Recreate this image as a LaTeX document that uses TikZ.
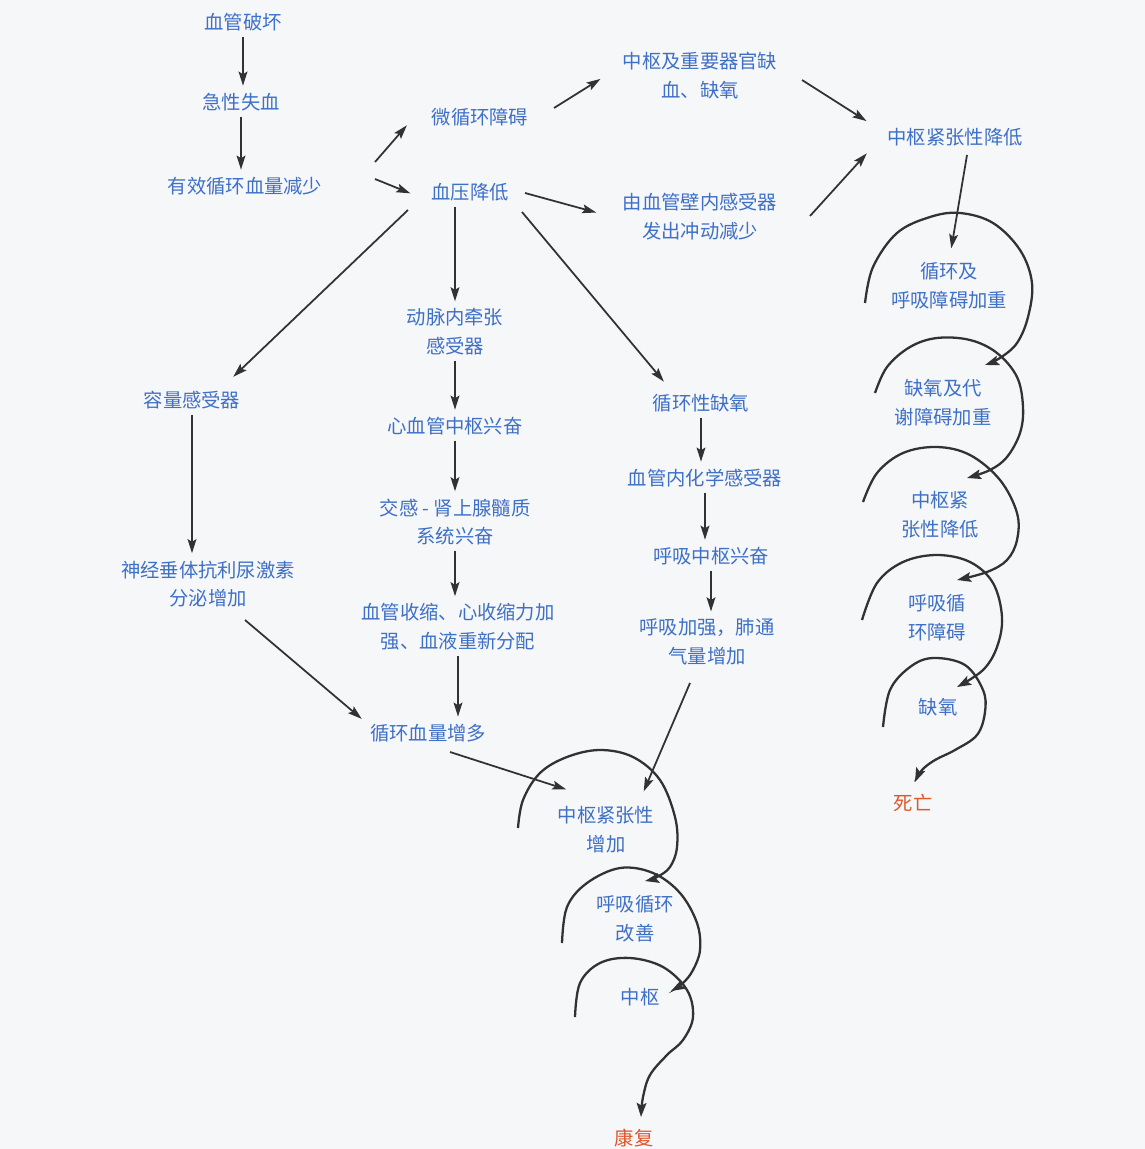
\documentclass[tikz,border=0pt]{standalone}
\usepackage{fontspec}
\setmainfont{Noto Sans CJK SC}
\usepackage{tikz}
\usetikzlibrary{arrows.meta}

\definecolor{tblue}{RGB}{62,112,200}
\definecolor{tred}{RGB}{222,86,44}
\definecolor{ink}{RGB}{50,50,52}
\definecolor{paper}{RGB}{246,247,249}

\tikzset{
  lbl/.style={text=tblue, align=center, inner sep=3pt, font=\fontsize{11}{16.4}\selectfont},
  endlbl/.style={lbl, text=tred},
  arr/.style={draw=ink, line width=1pt, -{Stealth[length=8pt,width=5pt,inset=1.5pt]}, shorten >=1pt},
  curl/.style={draw=ink, line width=1.3pt, -{Stealth[length=8pt,width=5.5pt,inset=1.5pt]}},
}

\begin{document}
\begin{tikzpicture}[x=0.02cm,y=0.02cm]
	\fill[paper] (0,0) rectangle (1145,-1149);
	\useasboundingbox (0,0) rectangle (1145,-1149);
	%
	\node[lbl] (rupture) at (243,-22) {血管破坏};
	\node[lbl] (bleed) at (241,-102) {急性失血};
	\node[lbl] (volume) at (245,-186) {有效循环血量减少};
	\node[lbl] (micro) at (480,-117) {微循环障碍};
	\node[lbl] (bp) at (470,-192) {血压降低};
	\node[lbl] (ischemia) at (700,-76) {中枢及重要器官缺\\血、缺氧};
	\node[lbl] (tonedown) at (955,-137) {中枢紧张性降低};
	\node[lbl] (wall) at (700,-217) {由血管壁内感受器\\发出冲动减少};
	\node[lbl] (stretch) at (455,-332) {动脉内牵张\\感受器};
	\node[lbl] (cvcenter) at (455,-426) {心血管中枢兴奋};
	\node[lbl] (sympa) at (455,-522) {交感 - 肾上腺髓质\\系统兴奋};
	\node[lbl] (constrict) at (458,-627) {血管收缩、心收缩力加\\强、血液重新分配};
	\node[lbl] (volup) at (428,-733) {循环血量增多};
	\node[lbl] (capac) at (192,-400) {容量感受器};
	\node[lbl] (adh) at (208,-584) {神经垂体抗利尿激素\\分泌增加};
	\node[lbl] (hypox) at (701,-403) {循环性缺氧};
	\node[lbl] (chemo) at (705,-478) {血管内化学感受器};
	\node[lbl] (resp) at (711,-556) {呼吸中枢兴奋};
	\node[lbl] (vent) at (707,-642) {呼吸加强，肺通\\气量增加};
	\node[lbl] (toneup) at (606,-830) {中枢紧张性\\增加};
	\node[lbl] (improve) at (635,-919) {呼吸循环\\改善};
	\node[lbl] (hub) at (640,-997) {中枢};
	\node[endlbl] (recover) at (634,-1138) {康复};
	\node[lbl] (r1) at (949,-286) {循环及\\呼吸障碍加重};
	\node[lbl] (r2) at (943,-403) {缺氧及代\\谢障碍加重};
	\node[lbl] (r3) at (940,-515) {中枢紧\\张性降低};
	\node[lbl] (r4) at (937,-618) {呼吸循\\环障碍};
	\node[lbl] (r5) at (938,-707) {缺氧};
	\node[endlbl] (death) at (913,-803) {死亡};
	%
	\draw[arr] (rupture) -- (rupture |- bleed.north);
	\draw[arr] (bleed) -- (bleed |- volume.north);
	\draw[arr] ([shift={(130,24)}]volume.center) -- ([shift={(-72,-7)}]micro.center);
	\draw[arr] ([shift={(130,7)}]volume.center) -- ([shift={(-58,-2)}]bp.center);
	\draw[arr] ([shift={(74,9)}]micro.center) -- ([shift={(-98,-2)}]ischemia.center);
	\draw[arr] ([shift={(55,-1)}]bp.center) -- ([shift={(-102,4)}]wall.center);
	\draw[arr] ([shift={(102,-4)}]ischemia.center) -- ([shift={(-87,15)}]tonedown.center);
	\draw[arr] ([shift={(110,1)}]wall.center) -- ([shift={(-87,-15)}]tonedown.center);
	\draw[arr] ([shift={(12,-18)}]tonedown.center) -- ([shift={(2,36)}]r1.center);
	\draw[arr] (bp.south -| stretch) -- (stretch);
	\draw[arr] (stretch) -- (stretch |- cvcenter.north);
	\draw[arr] (cvcenter) -- (cvcenter |- sympa.north);
	\draw[arr] (sympa) -- (sympa |- constrict.north);
	\draw[arr] (constrict) -- (constrict |- volup.north);
	\draw[arr] ([shift={(-62,-18)}]bp.center) -- ([shift={(40,22)}]capac.center);
	\draw[arr] (capac) -- (capac |- adh.north);
	\draw[arr] ([shift={(37,-36)}]adh.center) -- ([shift={(-65,13)}]volup.center);
	\draw[arr] ([shift={(52,-20)}]bp.center) -- ([shift={(-36,20)}]hypox.center);
	\draw[arr] (hypox) -- (hypox |- chemo.north);
	\draw[arr] (chemo) -- (chemo |- resp.north);
	\draw[arr] (resp) -- (resp |- vent.north);
	\draw[arr] ([shift={(-17,-41)}]vent.center) -- ([shift={(37,37)}]toneup.center);
	\draw[arr] ([shift={(22,-19)}]volup.center) -- ([shift={(-38,40)}]toneup.center);
	%
	\draw[curl] plot[smooth, tension=0.6] coordinates {(865,-303) (873,-267) (897,-233) (930,-217) (960,-213) (993,-223) (1020,-250) (1032,-283) (1028,-317) (1017,-343) (1000,-358) (985,-365)};
	\draw[curl] plot[smooth, tension=0.6] coordinates {(875,-393) (887,-367) (910,-347) (937,-338) (970,-340) (997,-353) (1017,-377) (1023,-407) (1020,-433) (1007,-457) (990,-470) (967,-478)};
	\draw[curl] plot[smooth, tension=0.6] coordinates {(863,-502) (877,-473) (903,-453) (937,-447) (970,-455) (1000,-480) (1017,-513) (1017,-540) (1007,-560) (987,-572) (957,-580)};
	\draw[curl] plot[smooth, tension=0.6] coordinates {(862,-620) (877,-583) (903,-562) (937,-555) (970,-562) (993,-583) (1002,-617) (997,-647) (983,-670) (957,-687)};
	\draw[curl] plot[smooth, tension=0.6] coordinates {(883,-727) (890,-690) (910,-667) (933,-658) (965,-665) (983,-690) (985,-712) (977,-735) (955,-750) (935,-760) (922,-770) (915,-782)};
	%
	\draw[curl] plot[smooth, tension=0.6] coordinates {(518,-828) (523,-800) (540,-773) (567,-757) (600,-750) (633,-757) (660,-780) (675,-817) (677,-847) (670,-867) (657,-877) (645,-881)};
	\draw[curl] plot[smooth, tension=0.6] coordinates {(562,-943) (567,-907) (587,-883) (620,-868) (653,-873) (680,-893) (697,-923) (700,-950) (693,-970) (683,-983) (671,-991)};
	\draw[curl] plot[smooth, tension=0.6] coordinates {(575,-1017) (580,-983) (600,-963) (630,-958) (663,-967) (687,-990) (693,-1017) (683,-1040) (667,-1055) (650,-1075) (643,-1097) (641,-1117)};
\end{tikzpicture}
\end{document}
